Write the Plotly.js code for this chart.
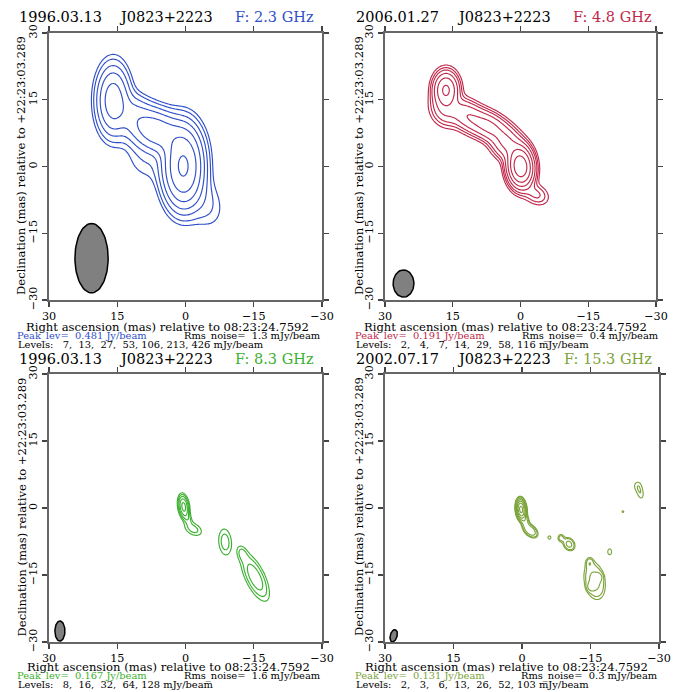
<!DOCTYPE html>
<html><head><meta charset="utf-8">
<script src="https://cdn.plot.ly/plotly-3.0.1.min.js"></script>
<style>html,body{margin:0;padding:0;background:#fff}#chart{width:688px;height:692px}</style>
</head><body><div id="chart"></div>
<script>
// ---------- data ----------
const tickVals = [30, 15, 0, -15, -30];
const obsDates = ['1996.03.13', '2006.01.27', '1996.03.13', '2002.07.17'];
const sourceName = 'J0823+2223';
const freqLabels = ['F: 2.3 GHz', 'F: 4.8 GHz', 'F: 8.3 GHz', 'F: 15.3 GHz'];
const peakLev = ['0.481', '0.191', '0.167', '0.131'];
const rmsNoise = ['1.3', '0.4', '1.6', '0.3'];
const xTitle = 'Right ascension (mas) relative to 08:23:24.7592';
const yTitle = 'Declination (mas) relative to +22:23:03.289';

const levels23 = [7, 13, 27, 53, 106, 213, 426];
const levels48 = [2, 4, 7, 14, 29, 58, 116];
const levels83 = [8, 16, 32, 64, 128];
const levels153 = [2, 3, 6, 13, 26, 52, 103];

// source components (RA offset mas, Dec offset mas, peak mJy/beam, FWHM major, FWHM minor, PA deg)
const comp23X = [0.5, 15.9, 6.5, 11.5, -4.0, 9.0];
const comp23Y = [0.0, 14.9, 8.0, 12.5, -8.0, 1.0];
const comp23S = [475, 160, 170, 35, 16, 10];
const comp23A = [10.6, 9.7, 9.0, 6.0, 9.0, 8.0];
const comp23B = [5.2, 4.5, 6.0, 5.0, 6.0, 6.0];
const comp23P = [0, 0, 64, 30, 20, 40];

const comp48X = [0.0, 16.5, 16.8, 12.0, 7.0, 3.0, -3.5];
const comp48Y = [0.0, 17.2, 12.5, 11.5, 9.0, 5.0, -6.3];
const comp48S = [190, 65, 12, 22, 35, 30, 8];
const comp48A = [5.4, 5.0, 5.0, 6.0, 7.0, 5.0, 4.0];
const comp48B = [3.3, 3.4, 4.0, 4.0, 3.8, 4.0, 3.0];
const comp48P = [5, 0, 30, 50, 60, 40, 60];

const comp83X = [0.4, -0.4, -1.7, -8.7, -12.5, -15.3];
const comp83Y = [0.3, -2.2, -4.7, -7.6, -10.3, -15.5];
const comp83S = [165, 25, 22, 24, 20, 55];
const comp83A = [3.0, 2.5, 3.2, 4.6, 2.8, 7.0];
const comp83B = [1.3, 1.2, 2.0, 2.2, 1.6, 2.6];
const comp83P = [8, 20, 60, 5, 20, 25];

const comp153X = [0.2, -0.6, -1.9, -6.0, -8.5, -10.3, -19.2, -22.1, -25.3, -26.0, -14.8, -15.9, -15.1, -16.8];
const comp153Y = [-0.3, -2.8, -5.1, -6.6, -6.7, -8.1, -9.8, -0.8, 5.0, 3.1, -12.3, -16.3, -17.6, -15.5];
const comp153S = [130, 10, 12, 2.4, 4, 8, 2.4, 2.1, 2.4, 2.5, 4, 8, 7, 6];
const comp153A = [2.4, 3.0, 2.4, 1.4, 1.5, 2.2, 2.5, 1.4, 2.5, 2.8, 1.8, 6.0, 1.4, 1.4];
const comp153B = [1.1, 1.2, 1.5, 1.2, 1.2, 1.7, 1.6, 1.4, 2.0, 1.6, 1.2, 3.2, 1.2, 1.2];
const comp153P = [5, 15, 45, 0, 0, 30, 0, 0, 0, 10, 0, 10, 0, 0];

// restoring beams
const beamX = [20.65, 25.9, 27.6, 28.1];
const beamY = [-20.6, -26.3, -27.55, -28.6];
const beamMaj = [15.6, 6.1, 4.5, 2.8];
const beamMin = [7.3, 4.6, 2.2, 1.5];
const beamPA = [0, 0, 0, -15];

const lineColors = ['#2f4fc8', '#c0284a', '#3cb030', '#7ba33a'];

// ---------- build ----------
const panels = [
  {lev: levels23, X: comp23X, Y: comp23Y, S: comp23S, A: comp23A, B: comp23B, P: comp23P, step: 0.25},
  {lev: levels48, X: comp48X, Y: comp48Y, S: comp48S, A: comp48A, B: comp48B, P: comp48P, step: 0.2},
  {lev: levels83, X: comp83X, Y: comp83Y, S: comp83S, A: comp83A, B: comp83B, P: comp83P, step: 0.12},
  {lev: levels153, X: comp153X, Y: comp153Y, S: comp153S, A: comp153A, B: comp153B, P: comp153P, step: 0.1}
];

function intensity(p, x, y) {
  let I = 1e-9;
  for (let k = 0; k < p.X.length; k++) {
    const pa = p.P[k] * Math.PI / 180;
    const dx = x - p.X[k], dy = y - p.Y[k];
    const u = dx * Math.sin(pa) + dy * Math.cos(pa);
    const v = dx * Math.cos(pa) - dy * Math.sin(pa);
    const q = (u / p.A[k]) ** 2 + (v / p.B[k]) ** 2;
    if (q < 12) I += p.S[k] * Math.exp(-4 * Math.LN2 * q);
  }
  return I;
}
function toIndex(lnL, t) {
  const n = lnL.length;
  if (t < lnL[0]) return Math.max(-2, 1 + (t - lnL[0]) / (lnL[1] - lnL[0]));
  for (let k = 0; k < n - 1; k++) {
    if (t < lnL[k + 1]) return k + 1 + (t - lnL[k]) / (lnL[k + 1] - lnL[k]);
  }
  return n + (t - lnL[n - 1]) / (lnL[n - 1] - lnL[n - 2]);
}

const traces = [];
panels.forEach((p, i) => {
  const ax = i === 0 ? '' : String(i + 1);
  const xs = [], ys = [];
  const N = Math.round(60 / p.step);
  for (let j = 0; j <= N; j++) { xs.push(-30 + j * p.step); ys.push(-30 + j * p.step); }
  const lnL = p.lev.map(Math.log);
  const z = ys.map(y => xs.map(x => toIndex(lnL, Math.log(intensity(p, x, y)))));
  traces.push({
    type: 'contour', x: xs, y: ys, z: z, xaxis: 'x' + ax, yaxis: 'y' + ax,
    autocontour: false, contours: {start: 1, end: p.lev.length, size: 1, coloring: 'none'},
    line: {color: lineColors[i], width: 1.15, smoothing: 0.8}, showscale: false, hoverinfo: 'skip'
  });
  // beam ellipse
  const bx = [], by = [];
  const pa = beamPA[i] * Math.PI / 180;
  for (let d = 0; d <= 360; d += 5) {
    const t = d * Math.PI / 180;
    const a = beamMaj[i] / 2 * Math.cos(t), b = beamMin[i] / 2 * Math.sin(t);
    bx.push(beamX[i] + a * Math.sin(pa) + b * Math.cos(pa));
    by.push(beamY[i] + a * Math.cos(pa) - b * Math.sin(pa));
  }
  traces.push({
    type: 'scatter', mode: 'lines', x: bx, y: by, xaxis: 'x' + ax, yaxis: 'y' + ax,
    fill: 'toself', fillcolor: '#808080', line: {color: '#000', width: 1.5}, hoverinfo: 'skip', showlegend: false
  });
});

const W = 688, H = 692;
const px = v => v / W, py = v => 1 - v / H;
const doms = [
  {x: [49, 322], y: [33, 300]},
  {x: [385, 656], y: [33, 300]},
  {x: [49, 322], y: [374, 642]},
  {x: [385, 659], y: [374, 642]}
];
const fontF = 'DejaVu Serif';
const layout = {
  width: W, height: H, margin: {l: 0, r: 0, t: 0, b: 0},
  paper_bgcolor: '#fff', plot_bgcolor: '#fff', showlegend: false,
  annotations: [], font: {family: fontF, color: '#000'}
};
const axBase = {
  tickvals: tickVals, ticks: 'outside', ticklen: 5, tickwidth: 1.2, tickcolor: '#444',
  showline: true, mirror: 'allticks', linecolor: '#666', linewidth: 1.6,
  showgrid: false, zeroline: false, fixedrange: true,
  tickfont: {family: fontF, size: 11.2, color: '#000'}
};
const titleY = [17, 17, 359, 359];
const dateX = [17, 354, 17, 354];
const srcX = [117, 455, 117, 455];
const freqX = [316, 654, 316, 654];
const xtC = [167.5, 505.5, 168, 506];
const xtY = [326.5, 326.5, 666.5, 666.5];
const peakY = [335.5, 335.5, 675.5, 675.5];
const levY = [344, 344, 684, 684];
const infoL = [15, 353, 15, 353];
const rmsR = [322.7, 660.5, 322.7, 660];
const ytX = [21, 359, 21, 359];
const ytY = [166, 166, 507.5, 507];
const nb = '\u00A0';
function pad(v, w) { let s = String(v); while (s.length < w) s = nb + s; return s; }

panels.forEach((p, i) => {
  const ax = i === 0 ? '' : String(i + 1);
  const d = doms[i];
  layout['xaxis' + ax] = Object.assign({}, axBase, {
    domain: [px(d.x[0]), px(d.x[1])], range: [30, -30], anchor: 'y' + ax, ticklabelstandoff: 0
  });
  layout['yaxis' + ax] = Object.assign({}, axBase, {
    domain: [py(d.y[1]), py(d.y[0])], range: [-30, 30], anchor: 'x' + ax, tickangle: -90, ticklabelstandoff: 1
  });
  const A = layout.annotations;
  const base = {xref: 'paper', yref: 'paper', showarrow: false, yanchor: 'middle'};
  A.push(Object.assign({}, base, {text: obsDates[i], x: px(dateX[i]), y: py(titleY[i]), xanchor: 'left', font: {size: 14.5, family: fontF, color: '#000'}}));
  A.push(Object.assign({}, base, {text: sourceName, x: px(srcX[i]), y: py(titleY[i]), xanchor: 'left', font: {size: 14.5, family: fontF, color: '#000'}}));
  A.push(Object.assign({}, base, {text: freqLabels[i], x: px(freqX[i]), y: py(titleY[i]), xanchor: 'right', font: {size: 14.5, family: fontF, color: lineColors[i]}}));
  A.push(Object.assign({}, base, {text: xTitle, x: px(xtC[i]), y: py(xtY[i]), xanchor: 'center', font: {size: 11.6, family: fontF, color: '#000'}}));
  A.push(Object.assign({}, base, {text: 'Peak_lev=' + nb + nb + peakLev[i] + ' Jy/beam', x: px(infoL[i]), y: py(peakY[i]), xanchor: 'left', font: {size: 9.9, family: fontF, color: lineColors[i]}}));
  A.push(Object.assign({}, base, {text: 'Rms_noise=' + nb + nb + rmsNoise[i] + ' mJy/beam', x: px(rmsR[i]), y: py(peakY[i]), xanchor: 'right', font: {size: 9.9, family: fontF, color: '#000'}}));
  A.push(Object.assign({}, base, {text: 'Levels:' + p.lev.map(v => pad(v, 4)).join(',') + ' mJy/beam', x: px(infoL[i] + 1), y: py(levY[i]), xanchor: 'left', font: {size: 9.9, family: fontF, color: '#000'}}));
  A.push(Object.assign({}, base, {text: yTitle, x: px(ytX[i]), y: py(ytY[i]), xanchor: 'center', textangle: -90, font: {size: 11.6, family: fontF, color: '#000'}}));
});

Plotly.newPlot('chart', traces, layout, {staticPlot: true, displayModeBar: false});
</script></body></html>
